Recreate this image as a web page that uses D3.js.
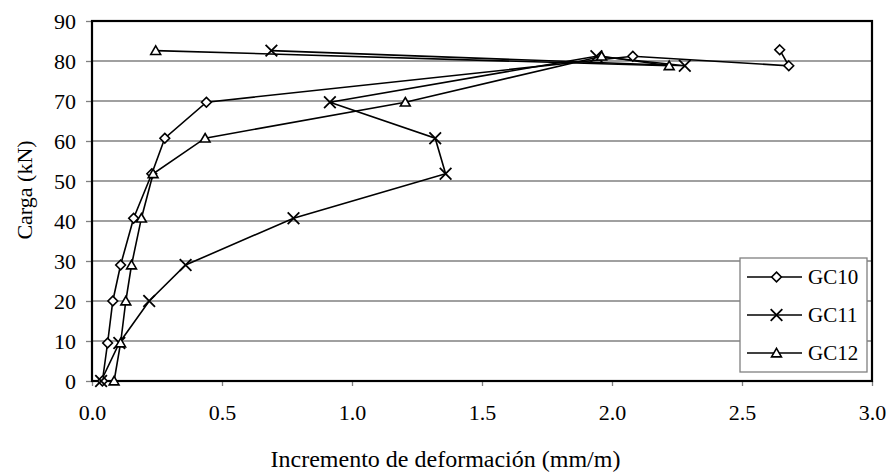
<!DOCTYPE html>
<html><head><meta charset="utf-8">
<script src="https://cdn.jsdelivr.net/npm/d3@7"></script>
<style>body{margin:0;background:#fff}</style>
</head><body>
<script>
const seriesNames = ["GC10", "GC11", "GC12"];
const seriesMarkers = ["diamond", "cross", "triangle"];
const gc10X = [0.04, 0.06, 0.08, 0.11, 0.16, 0.23, 0.28, 0.44, 2.08, 2.68, 2.645];
const gc10Y = [0, 9.5, 20, 29, 40.7, 51.8, 60.7, 69.7, 81.2, 78.8, 82.8];
const gc11X = [0.035, 0.105, 0.22, 0.36, 0.775, 1.36, 1.32, 0.915, 1.94, 2.28, 0.69];
const gc11Y = [0, 9.5, 20, 29, 40.7, 51.8, 60.7, 69.7, 81.2, 78.8, 82.6];
const gc12X = [0.085, 0.11, 0.13, 0.152, 0.19, 0.235, 0.435, 1.205, 1.96, 2.22, 0.245];
const gc12Y = [0, 9.5, 20, 29, 40.7, 51.8, 60.7, 69.7, 81.2, 78.8, 82.6];
const xTicks = [0, 0.5, 1.0, 1.5, 2.0, 2.5, 3.0];
const yTicks = [0, 10, 20, 30, 40, 50, 60, 70, 80, 90];
const xTitle = "Incremento de deformación (mm/m)";
const yTitle = "Carga (kN)";

const W = 891, H = 474;
const L = 92, R = 872, T = 21, B = 381;
const font = "'Liberation Serif','Times New Roman',serif";

const svg = d3.select("body").append("svg").attr("width", W).attr("height", H)
  .style("font-family", font);

const x = d3.scaleLinear().domain([0, 3]).range([L, R]);
const y = d3.scaleLinear().domain([0, 90]).range([B, T]);

// gridlines
svg.append("g").selectAll("line").data(yTicks.filter(d => d > 0 && d < 90)).join("line")
  .attr("x1", L).attr("x2", R).attr("y1", d => y(d)).attr("y2", d => y(d))
  .attr("stroke", "#808080").attr("stroke-width", 1.3);

// axes
const xAxis = d3.axisBottom(x).tickValues(xTicks).tickFormat(d3.format(".1f")).tickSize(5).tickPadding(18);
const gx = svg.append("g").attr("transform", `translate(0,${B})`).call(xAxis);
gx.select(".domain").remove();
gx.selectAll(".tick line").attr("stroke", "#808080").attr("stroke-width", 1.3);
gx.selectAll("text").attr("font-size", 22).attr("font-family", font).attr("fill", "#000");

const yAxis = d3.axisLeft(y).tickValues(yTicks).tickFormat(d3.format("d")).tickSize(6).tickPadding(10);
const gy = svg.append("g").attr("transform", `translate(${L},0)`).call(yAxis);
gy.select(".domain").remove();
gy.selectAll(".tick line").attr("stroke", "#808080").attr("stroke-width", 1.3);
gy.selectAll("text").attr("font-size", 22).attr("font-family", font).attr("fill", "#000");

// plot border
svg.append("rect").attr("x", L).attr("y", T).attr("width", R - L).attr("height", B - T)
  .attr("fill", "none").attr("stroke", "#000").attr("stroke-width", 2.2);

// titles
svg.append("text").attr("x", W / 2).attr("y", 467).attr("text-anchor", "middle")
  .attr("font-size", 24).text(xTitle);
svg.append("text").attr("transform", `translate(32,190) rotate(-90)`).attr("text-anchor", "middle")
  .attr("font-size", 22).text(yTitle);

const sym = {
  diamond: d3.symbol().type(d3.symbolDiamond2).size(60),
  cross: d3.symbol().type(d3.symbolX).size(90),
  triangle: d3.symbol().type(d3.symbolTriangle2).size(70)
};

const series = [
  { name: seriesNames[0], marker: seriesMarkers[0], xs: gc10X, ys: gc10Y },
  { name: seriesNames[1], marker: seriesMarkers[1], xs: gc11X, ys: gc11Y },
  { name: seriesNames[2], marker: seriesMarkers[2], xs: gc12X, ys: gc12Y }
];

const line = d3.line().x(d => x(d[0])).y(d => y(d[1]));

function drawMarker(g, type, cx, cy) {
  const p = g.append("path").attr("d", sym[type]()).attr("transform", `translate(${cx},${cy})`)
    .attr("stroke", "#000").attr("stroke-width", 1.6);
  if (type === "cross") { p.attr("fill", "none").attr("stroke-width", 1.8); }
  else p.attr("fill", "#fff");
  if (type === "triangle") p.attr("transform", `translate(${cx},${cy + 1})`);
}

series.forEach(s => {
  const pts = s.xs.map((v, i) => [v, s.ys[i]]);
  svg.append("path").datum(pts).attr("d", line).attr("fill", "none")
    .attr("stroke", "#000").attr("stroke-width", 1.6);
});
series.forEach(s => {
  const g = svg.append("g");
  s.xs.forEach((v, i) => drawMarker(g, s.marker, x(v), y(s.ys[i])));
});

// legend
const lg = svg.append("g");
const lx = 740, ly = 258, lw = 127, lh = 114;
lg.append("rect").attr("x", lx).attr("y", ly).attr("width", lw).attr("height", lh)
  .attr("fill", "#fff").attr("stroke", "#808080").attr("stroke-width", 1.3);
series.forEach((s, i) => {
  const cy = 277 + i * 38;
  lg.append("line").attr("x1", 747).attr("x2", 802).attr("y1", cy).attr("y2", cy)
    .attr("stroke", "#000").attr("stroke-width", 1.6);
  drawMarker(lg, s.marker, 776.5, cy);
  lg.append("text").attr("x", 808).attr("y", cy).attr("dy", "0.35em").attr("font-size", 21).text(s.name);
});
</script>
</body></html>
